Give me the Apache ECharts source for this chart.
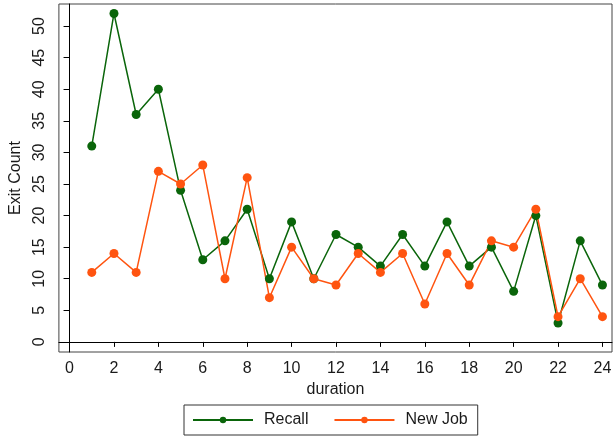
<!DOCTYPE html>
<html>
<head>
<meta charset="utf-8">
<script src="https://cdn.jsdelivr.net/npm/echarts@6/dist/echarts.min.js"></script>
<style>
  html, body { margin: 0; padding: 0; background: #fff; }
  #chart { width: 616px; height: 441px; }
</style>
</head>
<body>
<div id="chart"></div>
<script>
// durations on the x axis
const durations = [1, 2, 3, 4, 5, 6, 7, 8, 9, 10, 11, 12, 13, 14, 15, 16, 17, 18, 19, 20, 21, 22, 23, 24]
// exit counts per duration
const recall = [31, 52, 36, 40, 24, 13, 16, 21, 10, 19, 10, 17, 15, 12, 17, 12, 19, 12, 15, 8, 20, 3, 16, 9]
const newJob = [11, 14, 11, 27, 25, 28, 10, 26, 7, 15, 10, 9, 14, 11, 14, 6, 14, 9, 16, 15, 21, 4, 10, 4]
// tick labels
const xTicks = [0, 2, 4, 6, 8, 10, 12, 14, 16, 18, 20, 22, 24]
const yTicks = [0, 5, 10, 15, 20, 25, 30, 35, 40, 45, 50]

const font = 'Liberation Sans, Arial, sans-serif'
const green = '#0a650a'
const orange = '#ff5410'

const pairs = vals => durations.map((d, i) => [d, vals[i]])

const chart = echarts.init(document.getElementById('chart'))
chart.setOption({
  backgroundColor: '#fff',
  animation: false,
  grid: {
    left: 47,
    right: 4,
    top: 4,
    bottom: 89,
    show: true,
    borderColor: '#444',
    borderWidth: 1
  },
  legend: {
    left: 184,
    top: 405,
    padding: [7, 10, 7, 8],
    itemWidth: 60,
    itemHeight: 8,
    itemGap: 25,
    borderColor: '#333',
    borderWidth: 1,
    borderRadius: 0,
    textStyle: { fontFamily: font, fontSize: 16, color: '#1a1a1a', padding: [0, 0, 0, 6] },
    data: ['Recall', 'New Job']
  },
  xAxis: {
    type: 'value',
    min: -0.48,
    max: 24.43,
    name: 'duration',
    nameLocation: 'middle',
    nameGap: 28,
    nameTextStyle: { fontFamily: font, fontSize: 16, color: '#1a1a1a' },
    splitLine: { show: false },
    axisLine: { show: true, lineStyle: { color: '#000', width: 1 } },
    axisTick: { show: true, length: 5, customValues: xTicks, lineStyle: { color: '#000' } },
    axisLabel: { customValues: xTicks, fontFamily: font, fontSize: 16, color: '#1a1a1a', margin: 9 }
  },
  yAxis: {
    type: 'value',
    min: -1.6,
    max: 53.5,
    name: 'Exit Count',
    nameLocation: 'middle',
    nameRotate: 90,
    nameGap: 33,
    nameTextStyle: { fontFamily: font, fontSize: 16, color: '#1a1a1a' },
    splitLine: { show: false },
    axisLine: { show: true, lineStyle: { color: '#000', width: 1 } },
    axisTick: { show: true, length: 6, customValues: yTicks, lineStyle: { color: '#000' } },
    axisLabel: { customValues: yTicks, rotate: 90, fontFamily: font, fontSize: 16, color: '#1a1a1a', margin: 11 }
  },
  series: [
    {
      name: 'Recall',
      type: 'line',
      data: pairs(recall),
      symbol: 'circle',
      symbolSize: 9,
      color: green,
      lineStyle: { width: 1.5, color: green },
      itemStyle: { color: green }
    },
    {
      name: 'New Job',
      type: 'line',
      data: pairs(newJob),
      symbol: 'circle',
      symbolSize: 9,
      color: orange,
      lineStyle: { width: 1.5, color: orange },
      itemStyle: { color: orange }
    }
  ]
})
</script>
</body>
</html>
